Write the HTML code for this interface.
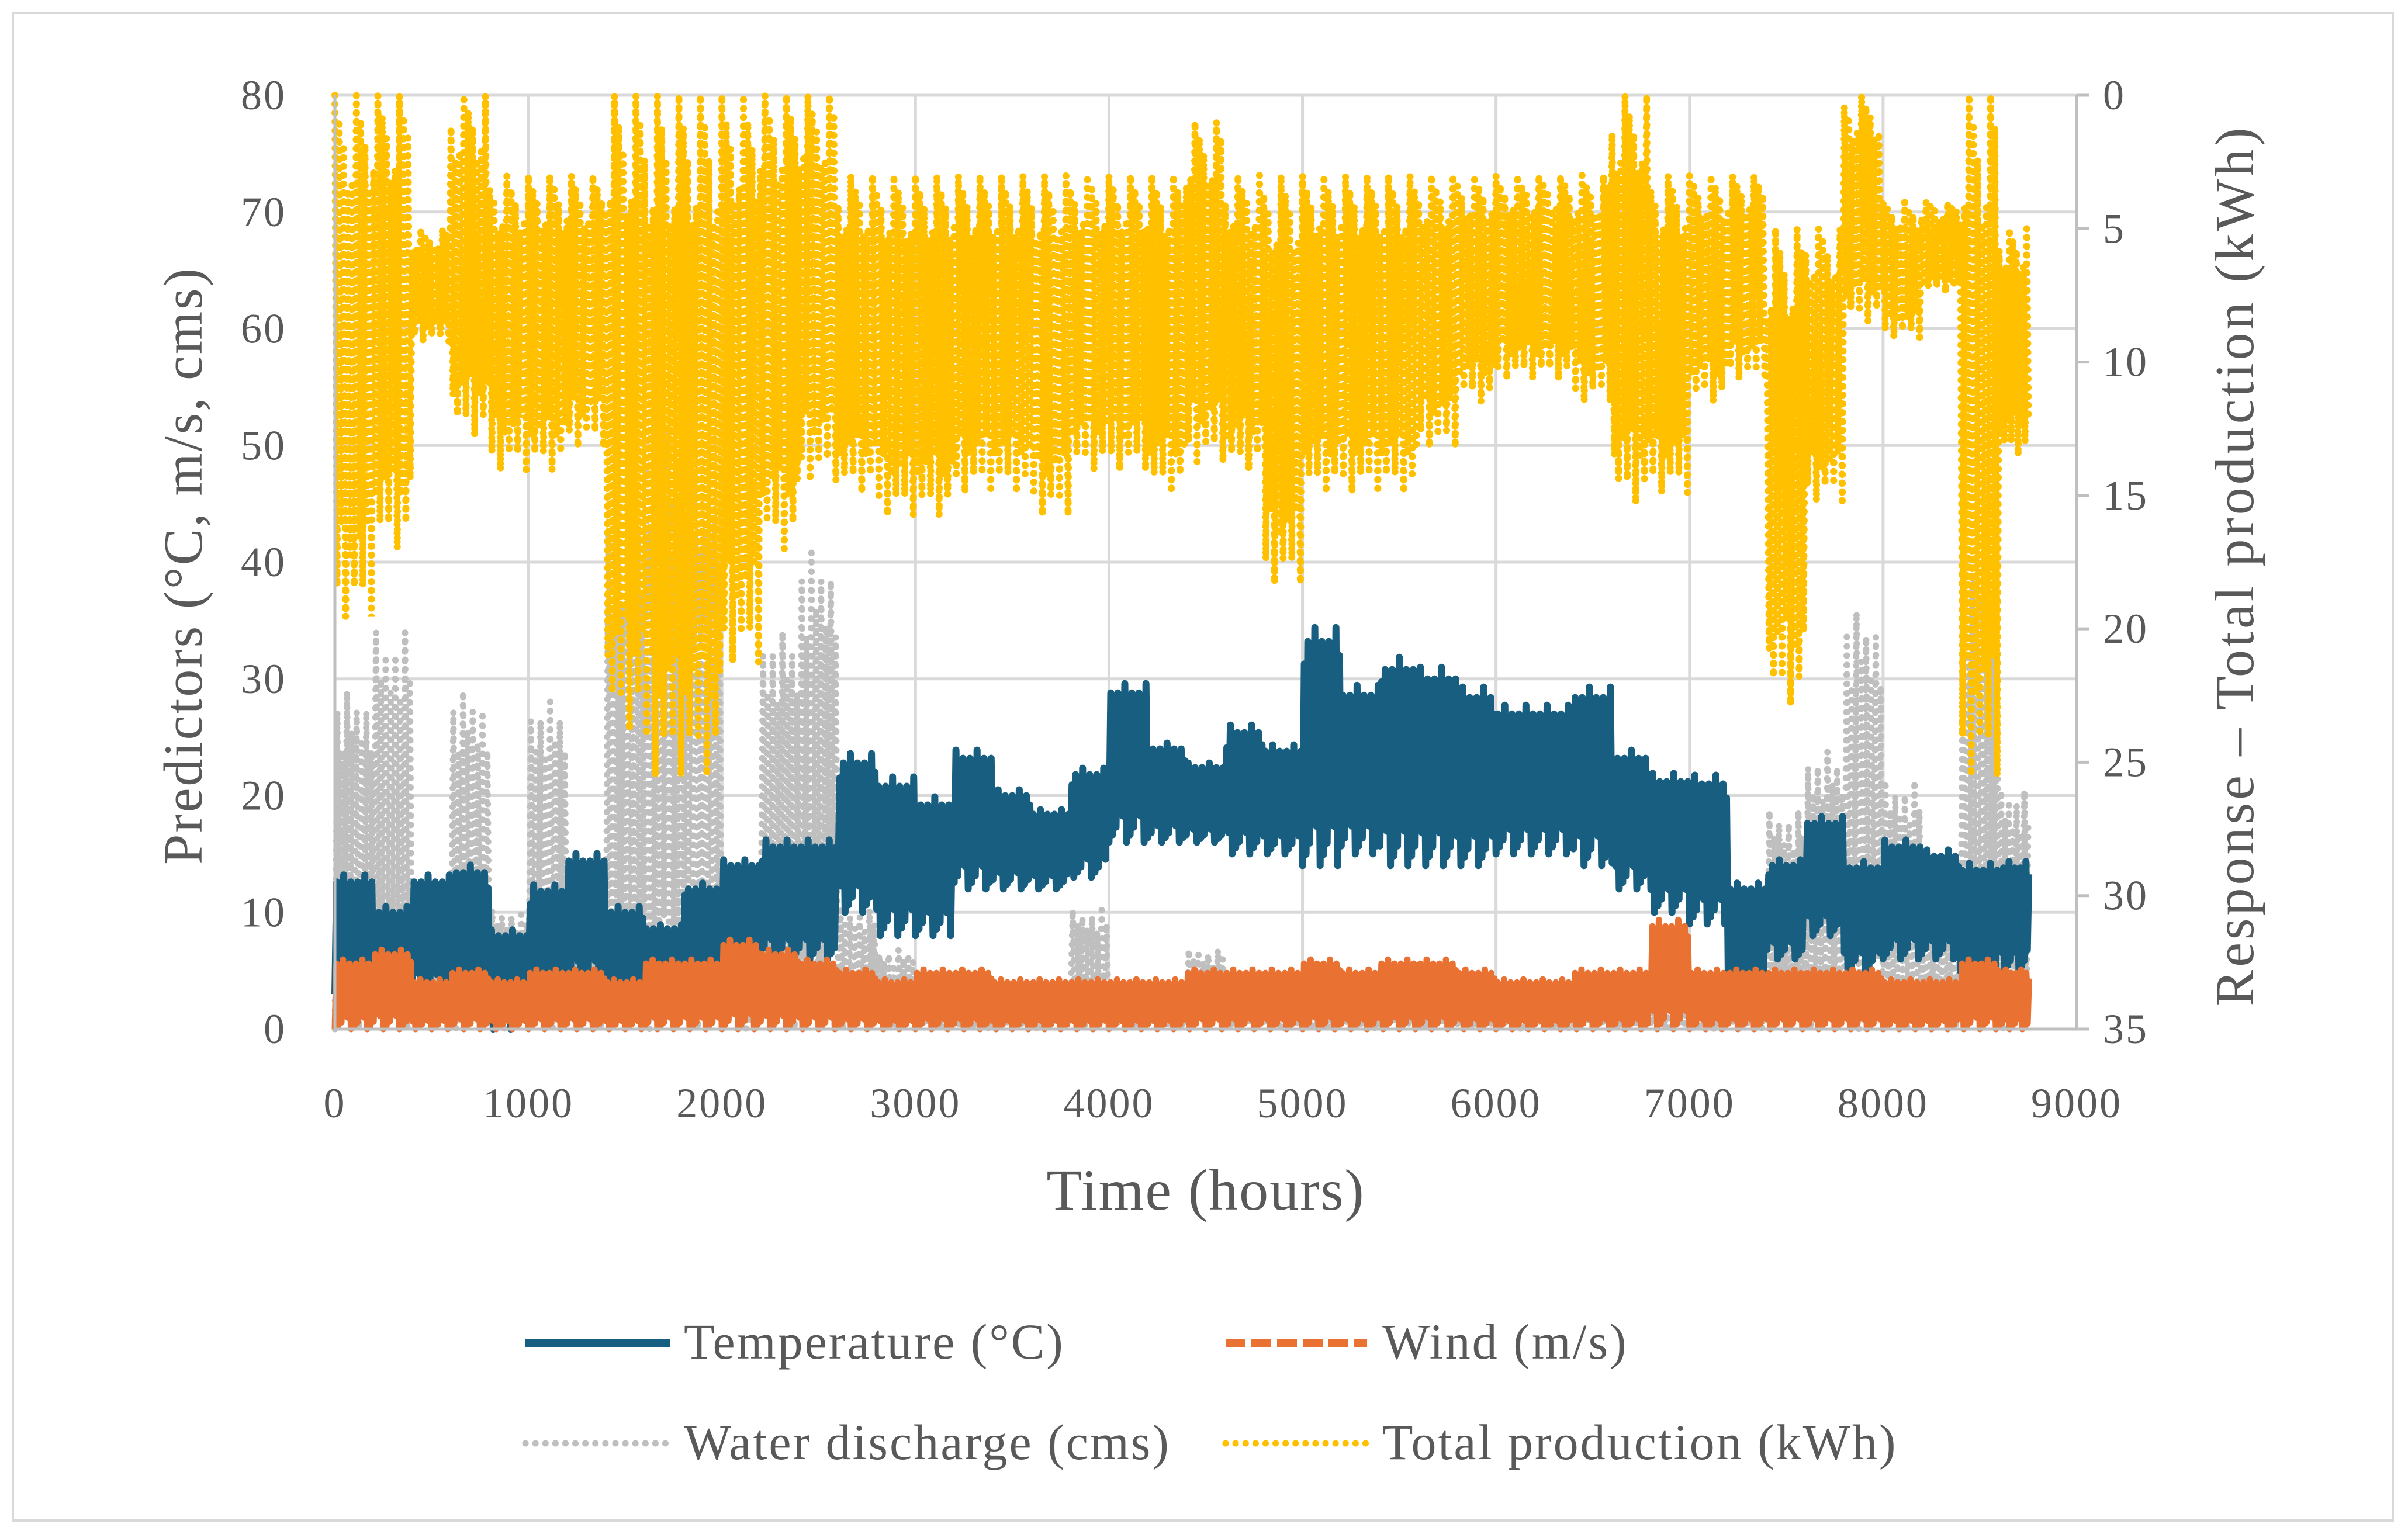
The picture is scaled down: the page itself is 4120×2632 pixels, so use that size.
<!DOCTYPE html>
<html><head><meta charset="utf-8"><style>
html,body{margin:0;padding:0;background:#fff}
svg{display:block}
text{font-family:"Liberation Serif",serif;fill:#595959}
</style></head><body>
<svg id="chart" width="4120" height="2632" viewBox="0 0 4120 2632" xmlns="http://www.w3.org/2000/svg">
<rect x="22" y="22" width="4072" height="2580" fill="#fff" stroke="#d9d9d9" stroke-width="4"/>
<g id="grid"></g>
<g id="series"></g>
<g id="axes"></g>
<text x="2063" y="2070" font-size="100" letter-spacing="2" text-anchor="middle">Time (hours)</text>
<text transform="translate(345,968) rotate(-90)" font-size="94" letter-spacing="3" text-anchor="middle">Predictors (°C, m/s, cms)</text>
<text transform="translate(3855,968) rotate(-90)" font-size="94" letter-spacing="5" text-anchor="middle">Response – Total production (kWh)</text>
<g font-size="86" letter-spacing="3">
 <g>
  <line x1="899" y1="2298" x2="1146" y2="2298" stroke="#175E80" stroke-width="14"/>
  <text x="1170" y="2325">Temperature (°C)</text></g>
 <g>
  <line x1="2097" y1="2298" x2="2339" y2="2298" stroke="#E97132" stroke-width="14" stroke-dasharray="34,10"/>
  <text x="2365" y="2325">Wind (m/s)</text></g>
 <g>
  <line x1="899" y1="2470" x2="1146" y2="2470" stroke="#BFBFBF" stroke-width="11" stroke-dasharray="0.1,17" stroke-linecap="round"/>
  <text x="1170" y="2497">Water discharge (cms)</text></g>
 <g>
  <line x1="2097" y1="2470" x2="2339" y2="2470" stroke="#FFC000" stroke-width="11" stroke-dasharray="0.1,17" stroke-linecap="round"/>
  <text x="2365" y="2497">Total production (kWh)</text></g>
</g>
</svg>
<script>
const xTicks=[0,1000,2000,3000,4000,5000,6000,7000,8000,9000];
const yLeftTicks=[0,10,20,30,40,50,60,70,80];
const yRightTicks=[0,5,10,15,20,25,30,35];
const binStarts=[0,200,400,600,800,1000,1200,1400,1600,1800,2000,2200,2400,2600,2800,3000,3200,3400,3600,3800,4000,4200,4400,4600,4800,5000,5200,5400,5600,5800,6000,6200,6400,6600,6800,7000,7200,7400,7600,7800,8000,8200,8400,8600];
const tempLo=[3,2,3,3,0,3,4,2,3,4,6,6,6,10,8,8,12,12,12,13,16,16,16,15,15,14,15,14,14,14,15,15,14,12,10,9,4,6,8,5,6,6,4,5];
const tempHi=[15,12,15,16,10,14,17,12,10,14,16,18,18,26,24,22,26,22,20,24,32,26,24,28,26,38,32,35,34,32,30,30,32,26,24,24,14,16,20,16,18,17,16,16];
const windLo=[0,0,0,0,0,0,0,0,0,0,0,0,0,0,0,0,0,0,0,0,0,0,0,0,0,0,0,0,0,0,0,0,0,0,0,0,0,0,0,0,0,0,0,0];
const windHi=[7,8,5,6,5,6,6,5,7,7,9,8,7,6,5,6,6,5,5,5,5,5,6,6,6,7,6,7,7,6,5,5,6,6,11,6,6,6,6,6,5,5,7,6];
const waterLo=[0,0,0,0,0,0,0,0,0,0,0,0,0,0,0,0,0,0,0,0,0,0,0,0,0,0,0,0,0,0,0,0,0,0,0,0,0,0,0,0,0,0,0,0];
const waterHi=[34,40,15,34,12,33,10,50,60,55,15,40,48,12,8,5,3,3,3,12,5,3,8,3,3,3,3,3,3,3,3,3,3,3,3,3,3,22,28,42,25,12,46,24];
const prodLo=[0,0,5,0,3,3,3,0,0,0,0,0,0,3,3,3,3,3,3,3,3,3,1,3,3,3,3,3,3,3,3,3,3,0,3,3,3,5,5,0,4,4,0,5];
const prodHi=[23,20,10,15,16,16,15,28,30,30,25,20,17,17,18,18,17,17,18,16,16,17,16,16,21,17,17,17,15,13,12,12,13,18,17,13,12,26,17,10,10,8,30,15];
const maxHour=8760;

const X0=573,X1=3553,Y0=1761,Y1=163;
const xs=v=>X0+(X1-X0)*v/9000;
const yL=v=>Y0-(Y0-Y1)*v/80;
const yR=v=>Y1+(Y0-Y1)*v/35;
const NS="http://www.w3.org/2000/svg";
function mk(tag,attrs,parent){const e=document.createElementNS(NS,tag);for(const k in attrs)e.setAttribute(k,attrs[k]);parent.appendChild(e);return e;}
const grid=document.getElementById('grid'),axes=document.getElementById('axes'),ser=document.getElementById('series');
yLeftTicks.forEach(t=>{
 const l=mk('line',{x1:X0,x2:X1,y1:yL(t),y2:yL(t),stroke:'#d9d9d9','stroke-width':5},grid);
 
 
 const tx=mk('text',{x:490,y:yL(t)+24,'font-size':72,'letter-spacing':3,'text-anchor':'end'},axes);tx.textContent=t;
 
 
});
xTicks.forEach(t=>{
 const l=mk('line',{x1:xs(t),x2:xs(t),y1:Y1,y2:Y0,stroke:'#d9d9d9','stroke-width':5},grid);
 
 
 const tx=mk('text',{x:xs(t),y:1912,'font-size':72,'letter-spacing':3,'text-anchor':'middle'},axes);tx.textContent=t;
 
 
});
yRightTicks.forEach(t=>{
 const l=mk('line',{x1:X1,x2:X1+22,y1:yR(t),y2:yR(t),stroke:'#bfbfbf','stroke-width':5},axes);
 
 
 const tx=mk('text',{x:3598,y:yR(t)+24,'font-size':72,'letter-spacing':3},axes);tx.textContent=t;
 
 
});
[['x-axis-line',X0,Y0,X1,Y0],['y-axis-left-line',X0,Y1,X0,Y0],['y-axis-right-line',X1,Y1,X1,Y0]].forEach(a=>{
 const l=mk('line',{x1:a[1],y1:a[2],x2:a[3],y2:a[4],stroke:'#bfbfbf','stroke-width':5},axes);
 
 
});
const pattern=[1,0.8,0.95,0.7,0.9,0.85,1,0.75,0.9,0.8,0.97,0.72];
const lowPattern=[0,0.3,0.1,0.5,0.2,0.05,0.4,0.15,0.35,0.25];
function zig(lo,hi,yf,steps){
 const pts=[];let k=0;
 binStarts.forEach((b,i)=>{
  const end=Math.min(b+200,maxHour);
  for(let s=0;s<steps;s++){
   const h=b+(end-b)*s/steps;
   const v=(s%2===0)?lo[i]+(hi[i]-lo[i])*lowPattern[k%lowPattern.length]*0.4:lo[i]+(hi[i]-lo[i])*pattern[k%pattern.length];
   k++;
   pts.push(xs(h).toFixed(1)+','+yf(v).toFixed(1));
  }
 });
 return pts.join(' ');
}
const p1=mk('polyline',{points:zig(waterLo,waterHi,yL,16),fill:'none',stroke:'#BFBFBF','stroke-width':11,'stroke-dasharray':'0.1,16','stroke-linecap':'round'},ser);


const p2=mk('polyline',{points:zig(prodLo,prodHi,yR,18),fill:'none',stroke:'#FFC000','stroke-width':12,'stroke-dasharray':'0.1,15','stroke-linecap':'round'},ser);


const p3=mk('polyline',{points:zig(tempLo,tempHi,yL,22),fill:'none',stroke:'#175E80','stroke-width':12,'stroke-linejoin':'round'},ser);


const p4=mk('polyline',{points:zig(windLo,windHi,yL,24),fill:'none',stroke:'#E97132','stroke-width':11,'stroke-linejoin':'round'},ser);


</script>
</body></html>
